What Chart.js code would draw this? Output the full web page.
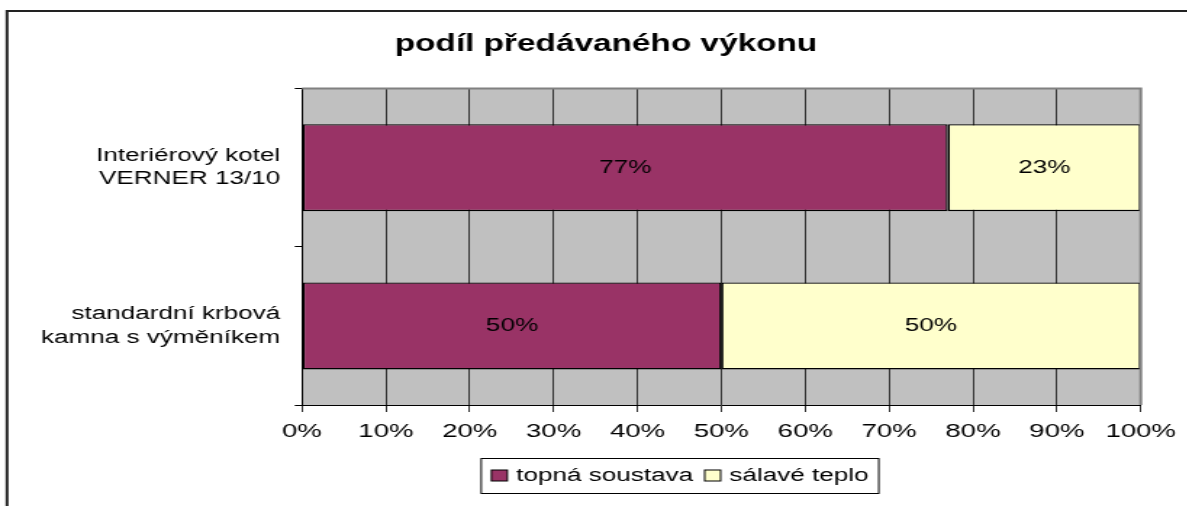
<!DOCTYPE html>
<html>
<head>
<meta charset="utf-8">
<script src="https://cdn.jsdelivr.net/npm/chart.js@4/dist/chart.umd.min.js"></script>
<style>
  html, body { margin: 0; padding: 0; background: #fff; overflow: hidden; }
  #wrap { position: absolute; left: 0; top: 0; width: 819px; height: 506px;
          transform: scaleX(1.45); transform-origin: 0 0; }
</style>
</head>
<body>
<div id="wrap"><canvas id="myChart" width="819" height="506"></canvas></div>
<script>
var categories = [['Interiérový kotel', 'VERNER 13/10'], ['standardní krbová', 'kamna s výměníkem']];
var seriesNames = ['topná soustava', 'sálavé teplo'];
var topnaSoustava = [77, 50];
var salaveTeplo = [23, 50];

// the reference is stretched sideways, so everything is drawn narrow and scaled by CSS
var SX = 1.45;
var FONT = "'Liberation Sans', Arial, sans-serif";

var plotBg = {
    id: 'plotBg',
    afterLayout: function (chart) {
        // centre the title on the whole frame, not on the padded box
        var t = chart.titleBlock;
        t.left = 0;
        t.right = 2 * 606 / SX;
        t.width = t.right;
    },
    beforeDraw: function (chart) {
        var a = chart.chartArea, ctx = chart.ctx;
        ctx.save();
        ctx.fillStyle = '#C0C0C0';
        ctx.fillRect(a.left, a.top, a.right - a.left, a.bottom - a.top);
        // outer frame of the chart object
        ctx.strokeStyle = '#222';
        ctx.lineWidth = 2;
        ctx.beginPath();
        ctx.moveTo(7 / SX, 506);
        ctx.lineTo(7 / SX, 11);
        ctx.lineTo(chart.width, 11);
        ctx.stroke();
        ctx.restore();
    },
    afterDraw: function (chart) {
        var a = chart.chartArea, ctx = chart.ctx;
        ctx.save();
        ctx.strokeStyle = '#808080';
        ctx.lineWidth = 2;
        ctx.beginPath();
        ctx.moveTo(a.left, a.top);
        ctx.lineTo(a.right, a.top);
        ctx.lineTo(a.right, a.bottom);
        ctx.stroke();
        ctx.restore();
    }
};

var barLabels = {
    id: 'barLabels',
    afterDatasetsDraw: function (chart) {
        var ctx = chart.ctx;
        ctx.save();
        ctx.font = '18px ' + FONT;
        ctx.fillStyle = '#000';
        ctx.textAlign = 'center';
        ctx.textBaseline = 'middle';
        chart.data.datasets.forEach(function (ds, i) {
            chart.getDatasetMeta(i).data.forEach(function (bar, j) {
                var p = bar.getCenterPoint();
                ctx.fillText(ds.data[j] + '%', p.x, p.y);
            });
        });
        ctx.restore();
    }
};

var boxLegend = {
    id: 'boxLegend',
    afterDraw: function (chart) {
        var ctx = chart.ctx;
        var box = 11, gap = 6, space = 8, pad = 7;
        ctx.save();
        ctx.font = '18px ' + FONT;
        var items = chart.data.datasets.map(function (ds) {
            return { text: ds.label, color: ds.backgroundColor, w: ctx.measureText(ds.label).width };
        });
        var total = pad * 2;
        items.forEach(function (it, i) { total += box + gap + it.w + (i ? space : 0); });
        var cx = 680 / SX, top = 458, h = 35;
        var x = cx - total / 2;
        ctx.strokeStyle = '#000';
        ctx.lineWidth = 1;
        ctx.fillStyle = '#fff';
        ctx.fillRect(x, top, total, h);
        ctx.strokeRect(x, top + 0.5, total, h);
        x += pad;
        ctx.textBaseline = 'middle';
        items.forEach(function (it, i) {
            if (i) x += space;
            ctx.fillStyle = it.color;
            ctx.fillRect(x, top + h / 2 - box / 2, box, box);
            ctx.strokeRect(x, top + h / 2 - box / 2, box, box);
            x += box + gap;
            ctx.fillStyle = '#000';
            ctx.fillText(it.text, x, top + h / 2 + 1);
            x += it.w;
        });
        ctx.restore();
    }
};

const data = {
    labels: categories,
    datasets: [{
        label: seriesNames[0],
        data: topnaSoustava,
        backgroundColor: '#993366',
        borderColor: '#000',
        borderWidth: 1.4,
        borderSkipped: false,
        barPercentage: 0.55,
        categoryPercentage: 1.0
    }, {
        label: seriesNames[1],
        data: salaveTeplo,
        backgroundColor: '#FFFFCC',
        borderColor: '#000',
        borderWidth: 1.4,
        borderSkipped: false,
        barPercentage: 0.55,
        categoryPercentage: 1.0
    }]
};

const config = {
    type: 'bar',
    data: data,
    plugins: [plotBg, barLabels, boxLegend],
    options: {
        responsive: false,
        animation: false,
        indexAxis: 'y',
        layout: { padding: { left: 0, right: 819 - 1141 / SX, top: 0, bottom: 0 } },
        plugins: {
            legend: { display: false },
            tooltip: { enabled: false },
            title: {
                display: true,
                text: 'podíl předávaného výkonu',
                color: '#000',
                font: { family: FONT, size: 23, weight: 'bold' },
                padding: { top: 31, bottom: 30 }
            }
        },
        scales: {
            x: {
                stacked: true,
                min: 0,
                max: 100,
                afterFit: function (s) { s.height = 506 - 405; },
                ticks: {
                    stepSize: 10,
                    color: '#000',
                    padding: 8,
                    font: { family: FONT, size: 19 },
                    callback: function (v) { return v + '%'; }
                },
                grid: { color: '#333', lineWidth: 1, tickLength: 7, drawTicks: true },
                border: { color: '#000', width: 1 }
            },
            y: {
                stacked: true,
                afterFit: function (s) { s.width = 302 / SX; },
                ticks: {
                    color: '#000',
                    padding: 10,
                    font: { family: FONT, size: 18, lineHeight: 1.3 }
                },
                grid: { offset: true, drawOnChartArea: false, drawTicks: true, tickLength: 5, color: '#000' },
                border: { color: '#000', width: 1 }
            }
        }
    }
};

const myChart = new Chart(document.getElementById('myChart'), config);
</script>
</body>
</html>
